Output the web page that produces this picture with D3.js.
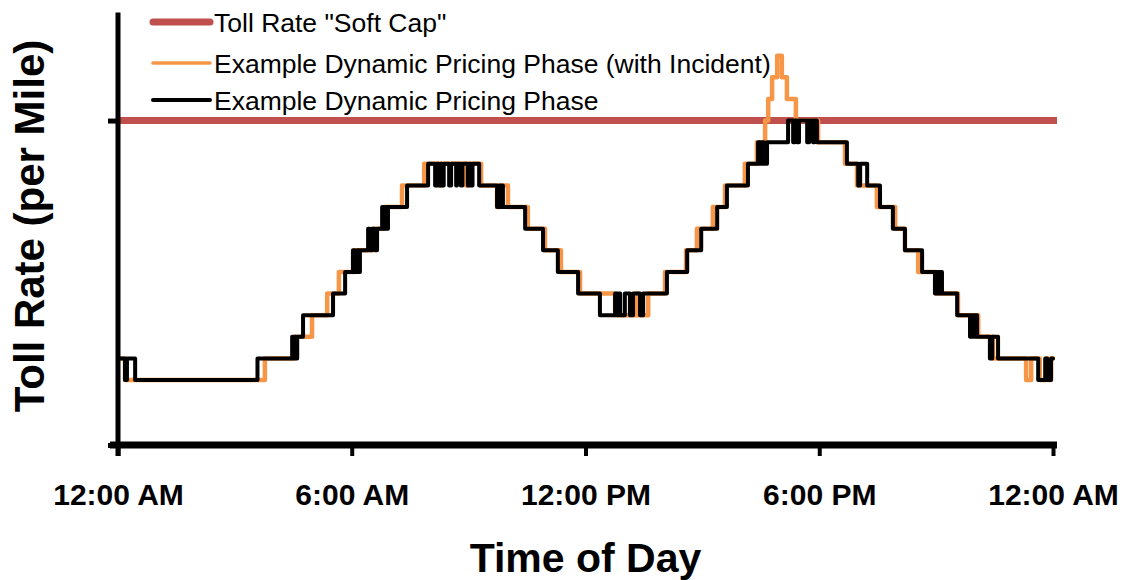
<!DOCTYPE html>
<html>
<head>
<meta charset="utf-8">
<script src="https://cdn.jsdelivr.net/npm/d3@7"></script>
<style>
  html, body { margin: 0; padding: 0; background: #fff; }
  svg { display: block; }
  text { font-family: "Liberation Sans", Arial, sans-serif; fill: #000; }
</style>
</head>
<body>
<svg id="chart" width="1129" height="580"></svg>
<script>
// ---- DATA (time in hours since midnight, toll rate in price-step levels) ----
const xTickHours = [0, 6, 12, 18, 24];
const xTickLabels = ["12:00 AM", "6:00 AM", "12:00 PM", "6:00 PM", "12:00 AM"];
const softCapLevel = 12;
const yAxisMin = -3;
const yAxisMax = 17;

const legendLabels = ['Toll Rate "Soft Cap"', "Example Dynamic Pricing Phase (with Incident)", "Example Dynamic Pricing Phase"];

const baseHours = [
  0, 0.18, 0.23, 0.44, 3.58, 4.47, 4.51, 4.54, 4.57, 4.60,
  4.75, 5.52, 5.83, 6.03, 6.08, 6.14, 6.17, 6.21, 6.42, 6.47,
  6.52, 6.60, 6.65, 6.78, 6.83, 6.88, 6.91, 6.93, 7.42, 7.96,
  8.14, 8.18, 8.24, 8.28, 8.32, 8.36, 8.50, 8.55, 8.68, 8.70,
  8.80, 8.84, 8.98, 9.02, 9.06, 9.10, 9.27, 9.73, 9.78, 9.83,
  9.86, 9.88, 10.45, 10.91, 11.29, 11.81, 12.37, 12.76, 12.81, 12.85,
  12.89, 13.01, 13.14, 13.22, 13.40, 13.48, 14.09, 14.61, 14.97, 15.38,
  15.63, 16.17, 16.43, 16.48, 16.53, 16.58, 16.66, 17.20, 17.33, 17.38,
  17.43, 17.48, 17.69, 17.74, 17.84, 17.88, 17.94, 18.71, 19.00, 19.05,
  19.23, 19.56, 19.89, 20.20, 20.64, 20.97, 21.02, 21.07, 21.11, 21.15,
  21.54, 21.87, 21.92, 21.97, 22.01, 22.05, 22.38, 22.44, 22.59, 23.62,
  23.80, 23.85, 23.95, 24.0
];
const baseLevels = [
  1, 0, 1, 0, 1, 2, 1, 2, 1, 2,
  3, 4, 5, 6, 5, 6, 5, 6, 7, 6,
  7, 6, 7, 8, 7, 8, 7, 8, 9, 10,
  9, 10, 9, 10, 9, 10, 9, 10, 9, 10,
  9, 10, 9, 10, 9, 10, 9, 8, 9, 8,
  9, 8, 7, 6, 5, 4, 3, 4, 3, 4,
  3, 4, 3, 4, 3, 4, 5, 6, 7, 8,
  9, 10, 11, 10, 11, 10, 11, 12, 11, 12,
  11, 12, 11, 12, 11, 12, 11, 10, 9, 10,
  9, 8, 7, 6, 5, 4, 5, 4, 5, 4,
  3, 2, 3, 2, 3, 2, 1, 2, 1, 0,
  1, 0, 1, 1
];

const incidentHours = [
  0, 0.18, 3.77, 4.52, 4.98, 5.37, 5.67, 6.08, 6.55, 6.85,
  7.29, 7.86, 8.27, 8.32, 8.93, 8.98, 9.32, 9.73, 9.81, 10.01,
  10.52, 10.96, 11.37, 11.86, 12.76, 13.30, 13.35, 13.61, 14.04, 14.58,
  14.86, 15.27, 15.58, 16.09, 16.40, 16.61, 16.69, 16.79, 16.92, 17.04,
  17.17, 17.40, 17.97, 18.66, 18.97, 19.48, 19.95, 20.20, 20.54, 21.00,
  21.56, 22.08, 22.46, 23.31, 23.44, 23.66, 23.82, 23.87, 23.95, 24.0
];
const incidentLevels = [
  1, 0, 1, 2, 3, 4, 5, 6, 7, 8,
  9, 10, 9, 10, 9, 10, 9, 8, 9, 8,
  7, 6, 5, 4, 3, 4, 3, 4, 5, 6,
  7, 8, 9, 10, 11, 12, 13, 14, 15, 14,
  13, 12, 11, 10, 9, 8, 7, 6, 5, 4,
  3, 2, 1, 0, 1, 0, 1, 0, 1, 1
];

// ---- CHART ----
const svg = d3.select("#chart");
const x = d3.scaleLinear().domain([0, 24]).range([118, 1053]);
const y = d3.scaleLinear().domain([yAxisMin, yAxisMax]).range([445, 12.4]);

const red = "#C0504D", orange = "#F79646", black = "#000000";

// soft cap line
svg.append("line")
  .attr("x1", x(0)).attr("x2", x(24) + 4)
  .attr("y1", y(softCapLevel)).attr("y2", y(softCapLevel))
  .attr("stroke", red).attr("stroke-width", 7);

const line = d3.line()
  .x(d => x(d[0])).y(d => y(d[1]))
  .curve(d3.curveStepAfter);

const incidentData = incidentHours.map((h, i) => [h, incidentLevels[i]]);
const baseData = baseHours.map((h, i) => [h, baseLevels[i]]);

svg.append("path").datum(incidentData)
  .attr("d", line).attr("fill", "none")
  .attr("stroke", orange).attr("stroke-width", 4.5)
  .attr("stroke-linejoin", "round").attr("stroke-linecap", "round");

svg.append("path").datum(baseData)
  .attr("d", line).attr("fill", "none")
  .attr("stroke", black).attr("stroke-width", 4)
  .attr("stroke-linejoin", "round").attr("stroke-linecap", "round");

// y axis
const yAxis = d3.axisLeft(y).tickValues([yAxisMin, softCapLevel]).tickSize(10).tickSizeOuter(0).tickFormat("");
const gy = svg.append("g").attr("transform", `translate(${x(0)},0)`).call(yAxis);
gy.select(".domain").remove();
gy.selectAll(".tick line").attr("stroke", "#000").attr("stroke-width", 5);
svg.append("line")
  .attr("x1", x(0)).attr("x2", x(0))
  .attr("y1", y(yAxisMax)).attr("y2", y(yAxisMin) + 11)
  .attr("stroke", "#000").attr("stroke-width", 5);

// x axis
const xAxis = d3.axisBottom(x).tickValues(xTickHours).tickSize(11).tickSizeOuter(0)
  .tickFormat((d, i) => xTickLabels[i]);
const gx = svg.append("g").attr("transform", `translate(0,${y(yAxisMin)})`).call(xAxis);
gx.select(".domain").remove();
gx.selectAll(".tick line").attr("stroke", "#000").attr("stroke-width", 4);
gx.selectAll(".tick text")
  .attr("y", 60).attr("dy", 0)
  .style("font-family", '"Liberation Sans", Arial, sans-serif')
  .style("font-size", "30px").style("font-weight", "bold").attr("fill", "#000");
svg.append("line")
  .attr("x1", x(0) - 8).attr("x2", x(24) + 4)
  .attr("y1", y(yAxisMin)).attr("y2", y(yAxisMin))
  .attr("stroke", "#000").attr("stroke-width", 7);

// axis titles
svg.append("text")
  .attr("x", x(12)).attr("y", 572)
  .attr("text-anchor", "middle")
  .style("font-size", "41px").style("font-weight", "bold")
  .text("Time of Day");

svg.append("text")
  .attr("transform", "translate(44,226) rotate(-90)")
  .attr("text-anchor", "middle")
  .style("font-size", "42px").style("font-weight", "bold")
  .text("Toll Rate (per Mile)");

// legend
const legendColors = [red, orange, black];
const legendWidths = [7, 3.5, 4];
const legendY = [22, 63, 100];
const legendBase = [32, 73, 110];
legendLabels.forEach((lab, i) => {
  svg.append("line")
    .attr("x1", 153).attr("x2", 210)
    .attr("y1", legendY[i]).attr("y2", legendY[i])
    .attr("stroke", legendColors[i]).attr("stroke-width", legendWidths[i])
    .attr("stroke-linecap", "round");
  svg.append("text")
    .attr("x", 214).attr("y", legendBase[i])
    .style("font-size", "26.5px")
    .text(lab);
});
</script>
</body>
</html>
